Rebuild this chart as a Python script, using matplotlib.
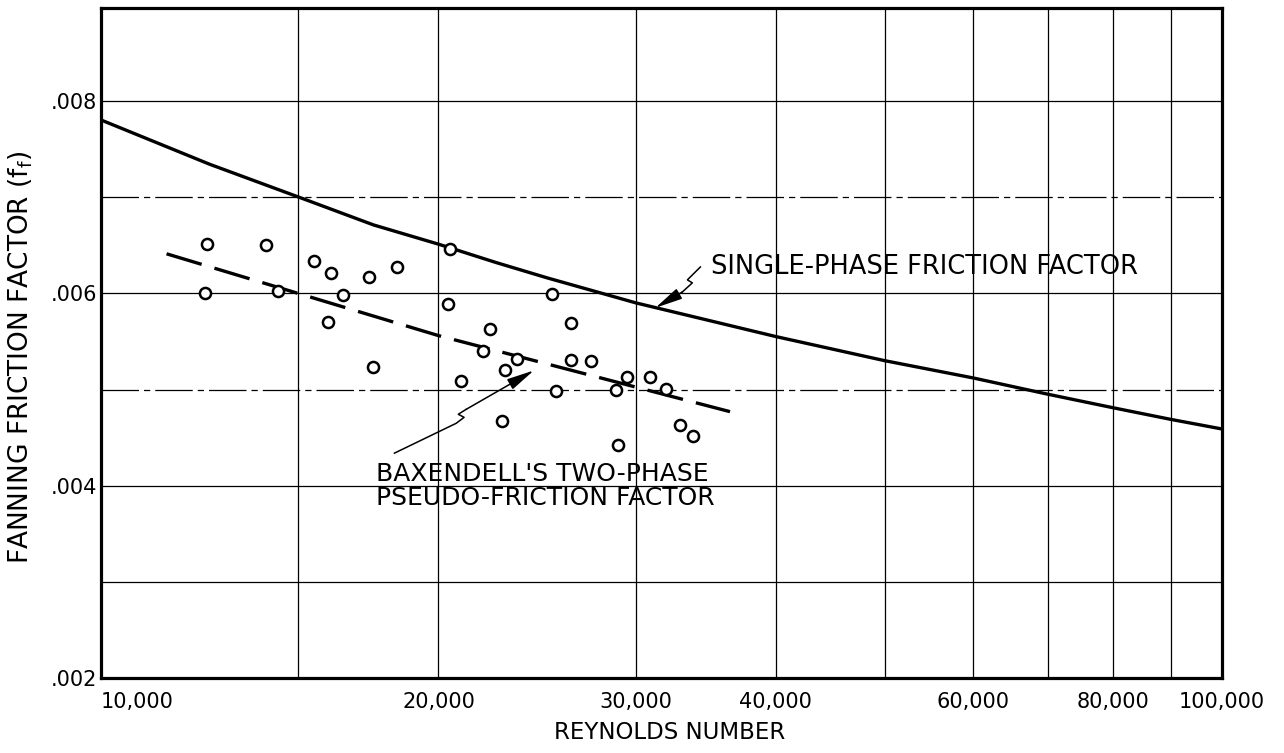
import matplotlib
matplotlib.use("Agg")
import matplotlib.pyplot as plt
from matplotlib.ticker import FixedLocator, FixedFormatter, NullLocator

plt.rcParams['font.family'] = ['DejaVu Sans']

# measured two-phase points
re_points = [12420, 14040, 12390, 14390, 15490, 16040, 16450, 15930, 17330, 18370,
             17470, 20470, 20390, 22250, 21930, 23500, 22910, 20940, 22770, 25260,
             26260, 26260, 27380, 25440, 28800, 29450, 30860, 31930, 32860, 33720,
             28920]
f_points = [.00651, .00650, .00600, .00602, .00633, .00621, .00598, .00570, .00617, .00627,
            .00523, .00646, .00589, .00563, .00540, .00532, .00520, .00509, .00467, .00599,
            .00569, .00531, .00530, .00498, .00500, .00513, .00513, .00501, .00463, .00452,
            .00442]

# single-phase friction factor curve
re_single = [10000, 12500, 15000, 17500, 20000, 22500, 25000, 30000, 40000, 50000,
             60000, 70000, 80000, 90000, 100000]
f_single = [.00780, .00734, .00700, .00671, .00651, .00632, .00616, .00590, .00555, .00530,
            .00512, .00495, .00481, .00469, .00459]

# Baxendell's pseudo-friction factor (dashed)
re_bax = [11440, 20000, 36400]
f_bax = [.00641, .00556, .00477]

xtick_values = [10000, 15000, 20000, 30000, 40000, 50000, 60000, 70000, 80000, 90000, 100000]
xtick_labels = ["10,000", "", "20,000", "30,000", "40,000", "", "60,000", "", "80,000", "", "100,000"]
ytick_values = [.002, .004, .006, .008]
ytick_labels = [".002", ".004", ".006", ".008"]

fig = plt.figure(figsize=(12.84, 7.53), dpi=100)
ax = fig.add_axes([0.0787, 0.0992, 0.873, 0.890])

ax.set_xscale("log")
ax.set_xlim(10000, 100000)
ax.set_ylim(0.002, 0.008962)

# grid
for x in xtick_values[1:-1]:
    ax.axvline(x, color="black", lw=0.9, zorder=1)
for y, dashed in [(.003, False), (.004, False), (.005, True), (.006, False), (.007, True), (.008, False)]:
    if dashed:
        ax.axhline(y, color="black", lw=0.9, dashes=(30, 4, 5, 4), zorder=1)
    else:
        ax.axhline(y, color="black", lw=0.9, zorder=1)

ax.plot(re_single, f_single, color="black", lw=2.4, zorder=3)
ax.plot(re_bax, f_bax, color="black", lw=2.4, dashes=(11, 4), zorder=3)
ax.plot(re_points, f_points, "o", ms=8, mfc="white", mec="black", mew=1.8, zorder=4)

# annotations
ax.text(35000, 0.00627, "SINGLE-PHASE FRICTION FACTOR", fontsize=18.5, ha="left", va="center")
ax.plot([34250, 33350, 33690, 33010], [0.006273, 0.006139, 0.006108, 0.006014],
        color="black", lw=1.1, zorder=3)
ax.annotate("", xy=(31230, 0.005849), xytext=(33010, 0.006014),
            arrowprops=dict(arrowstyle="-|>,head_length=1.2,head_width=0.25",
                            color="black", lw=1.1, shrinkA=0, shrinkB=0, mutation_scale=14))

ax.text(17600, 0.004246, "BAXENDELL'S TWO-PHASE\nPSEUDO-FRICTION FACTOR", fontsize=18,
        ha="left", va="top", linespacing=1.0)
ax.plot([18270, 20740, 21080, 20830, 21170], [0.004339, 0.004649, 0.004711, 0.004743, 0.004794],
        color="black", lw=1.1, zorder=3)
ax.annotate("", xy=(24330, 0.005198), xytext=(21170, 0.004794),
            arrowprops=dict(arrowstyle="-|>,head_length=1.2,head_width=0.25",
                            color="black", lw=1.1, shrinkA=0, shrinkB=0, mutation_scale=14))

# ticks
ax.xaxis.set_major_locator(FixedLocator(xtick_values))
ax.xaxis.set_major_formatter(FixedFormatter(xtick_labels))
ax.xaxis.set_minor_locator(NullLocator())
ax.yaxis.set_major_locator(FixedLocator(ytick_values))
ax.yaxis.set_major_formatter(FixedFormatter(ytick_labels))
ax.yaxis.set_minor_locator(NullLocator())
ax.tick_params(axis="x", length=0, pad=10, labelsize=15)
ax.tick_params(axis="y", length=0, pad=3, labelsize=15)
ax.get_xticklabels()[0].set_horizontalalignment("left")

for s in ax.spines.values():
    s.set_linewidth(2.3)

ax.set_xlabel("REYNOLDS NUMBER", fontsize=16.5, va="center")
ax.xaxis.set_label_coords(0.507, -0.0816)
ax.set_ylabel("FANNING FRICTION FACTOR (f$_\\mathregular{f}$)", fontsize=19, va="center")
ax.yaxis.set_label_coords(-0.0714, 0.479)

fig.savefig("out.png", dpi=100)
